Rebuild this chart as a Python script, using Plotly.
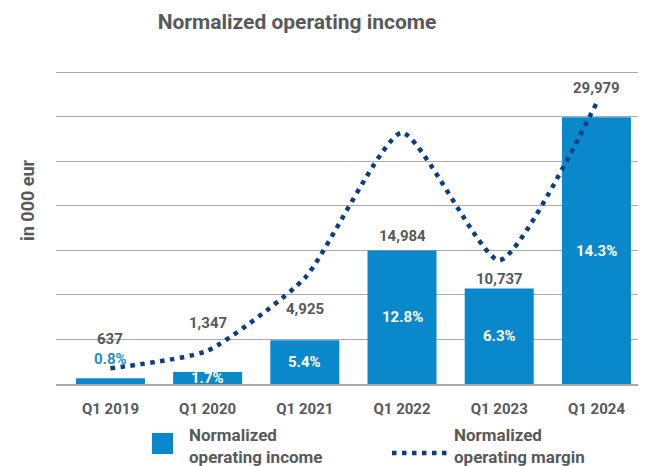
import plotly.graph_objects as go

quarters = ["Q1 2019", "Q1 2020", "Q1 2021", "Q1 2022", "Q1 2023", "Q1 2024"]
income = [637, 1347, 4925, 14984, 10737, 29979]
margin = [0.8, 1.7, 5.4, 12.8, 6.3, 14.3]

BAR = "#0A88CC"
LINE = "#0B3D85"
GRAY = "#58595B"
FONT = "Roboto"

# plot area in page pixels (the page body adds an 8px offset)
L, T, W, H = 48, 60, 590, 316


def px(x):
    return (x - 8 - L) / W


def py(y):
    return (T + H - (y - 8)) / H


fig = go.Figure()
fig.add_trace(go.Bar(
    x=quarters, y=income, marker=dict(color=BAR, line=dict(width=0)),
    name="Normalized operating income", showlegend=False, hoverinfo="skip",
))
fig.add_trace(go.Scatter(
    x=quarters, y=margin, yaxis="y2", mode="lines",
    line=dict(color=LINE, width=4.5, dash="4.5px,5.5px", shape="spline", smoothing=0.55),
    name="Normalized operating margin", showlegend=False, hoverinfo="skip",
))

# value labels above bars (offsets as in the original)
value_shift = [39, 49, 31, 15, 9, 29]
for q, v, s in zip(quarters, income, value_shift):
    fig.add_annotation(x=q, y=v, text=f"{v:,}", showarrow=False, yshift=s,
                       font=dict(family=FONT, size=15, color=GRAY, weight="bold"))

# margin labels in the bars
for i, (q, v, m) in enumerate(zip(quarters, income, margin)):
    if i == 0:
        fig.add_annotation(x=q, y=v, text=f"{m}%", showarrow=False, yshift=19,
                           font=dict(family=FONT, size=15, color="#1C8FD3", weight="bold"))
    else:
        fig.add_annotation(x=q, y=v / 2, text=f"{m}%", showarrow=False,
                           font=dict(family=FONT, size=15, color="white", weight="bold"))

# y axis title
fig.add_annotation(xref="paper", yref="paper", x=px(27), y=py(200), text="in 000 eur",
                   textangle=-90, showarrow=False, xanchor="center", yanchor="middle",
                   font=dict(family=FONT, size=18, color=GRAY, weight="bold"))

# custom legend
fig.add_shape(type="rect", xref="paper", yref="paper", x0=px(152), x1=px(173),
              y0=py(454), y1=py(433), fillcolor=BAR, line=dict(width=0))
fig.add_shape(type="line", xref="paper", yref="paper", x0=px(392), x1=px(447),
              y0=py(453), y1=py(453), line=dict(color=LINE, width=4.5, dash="4.5px,5.5px"))
for x0, txt in [(187, "Normalized<br>operating income"),
                (452, "Normalized<br>operating margin")]:
    fig.add_annotation(xref="paper", yref="paper", x=px(x0), y=py(446), text=txt,
                       showarrow=False, xanchor="left", yanchor="middle", align="left",
                       font=dict(family=FONT, size=17, color=GRAY, weight="bold"))

fig.update_layout(
    width=646 - 8, height=466 - 8,
    margin=dict(l=L, r=0, t=T, b=458 - T - H),
    paper_bgcolor="white", plot_bgcolor="white",
    bargap=0.29,
    title=dict(text="Normalized operating income", x=(297 - 8) / 638, xanchor="center",
               y=1 - (22 - 8) / 458, yanchor="middle",
               font=dict(family=FONT, size=21, color=GRAY, weight="bold")),
    xaxis=dict(range=[-0.56, 5.51], showgrid=False, ticks="", showline=True,
               linecolor="#AAAAAA", linewidth=2,
               tickfont=dict(family=FONT, size=15, color=GRAY, weight="bold")),
    yaxis=dict(range=[0, 35500], tick0=0, dtick=5000, showgrid=True, gridcolor="#AAAAAA",
               gridwidth=1.2, showticklabels=False, zeroline=False),
    yaxis2=dict(range=[0, 16.1], overlaying="y", visible=False),
)
fig.update_xaxes(ticklabelstandoff=10)

fig.write_html("out.html")
